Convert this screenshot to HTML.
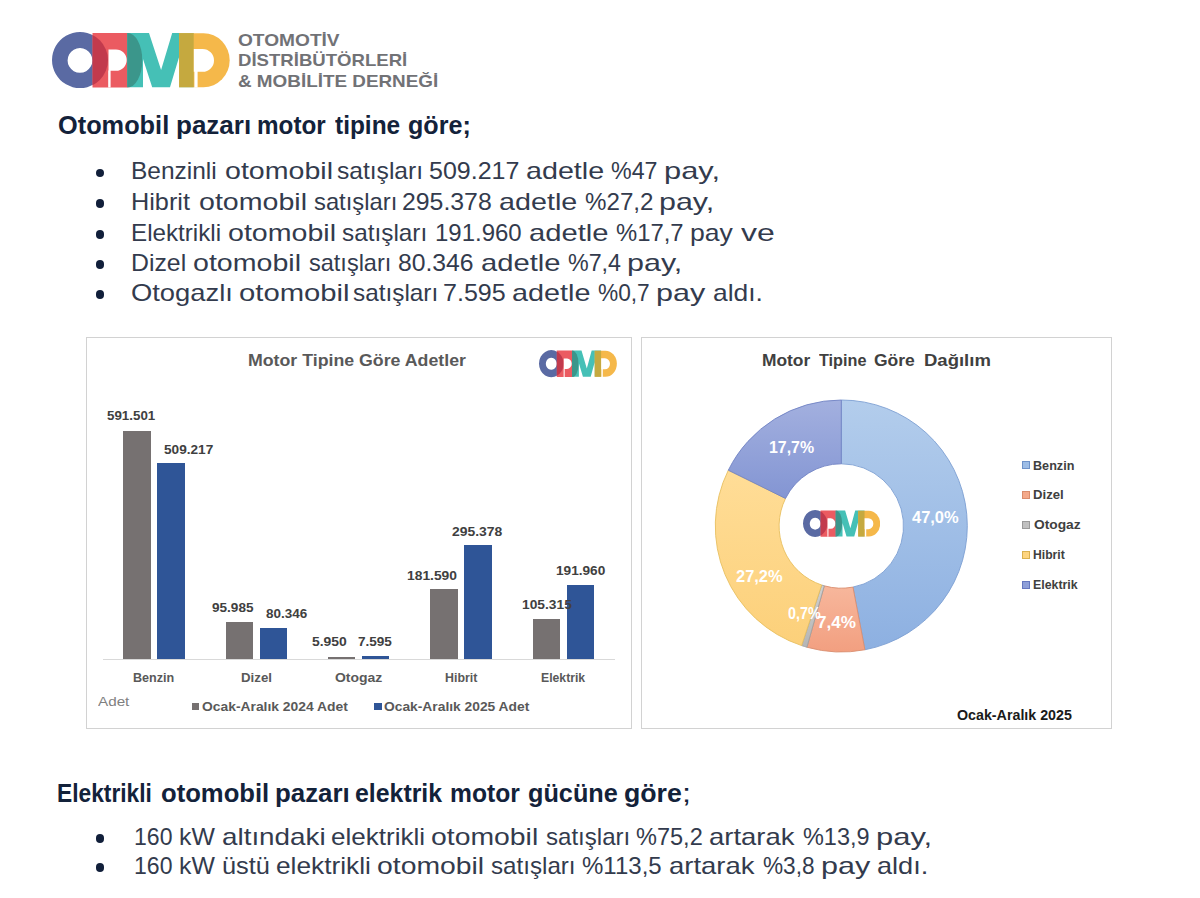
<!DOCTYPE html>
<html lang="tr"><head><meta charset="utf-8"><title>ODMD</title>
<style>
html,body{margin:0;padding:0;background:#fff;}
#page{position:relative;width:1200px;height:898px;overflow:hidden;background:#fff;}
.abs{position:absolute;box-sizing:border-box;}
.t{position:absolute;white-space:nowrap;line-height:1;font-family:"Liberation Sans", "DejaVu Sans", sans-serif;transform-origin:0 0;}
.dot{width:8.8px;height:8.8px;border-radius:50%;background:#111f3a;}
</style></head><body><div id="page">
<svg class="abs" style="left:51.5px;top:32px" width="178.0" height="56.5" viewBox="51.5 32 178 56.5" preserveAspectRatio="none">
<defs>
<clipPath id="cra"><path d="M92,33 H127 A14.8,27.25 0 0 1 127,87.5 H92 Z"/></clipPath>
<clipPath id="cya"><path d="M178.6,33.3 H203 A26.2,26.95 0 0 1 203,87.2 H178.6 Z"/></clipPath>
</defs>
<path fill="#5a6aa3" fill-rule="evenodd" d="M79.5,32.1 a28,28 0 1 0 0.01,0 Z M79.5,48 a12.4,12.4 0 1 1 -0.01,0 Z"/>
<path fill="#eb5b61" d="M92,33 H127 A14.8,27.25 0 0 1 127,87.5 H92 Z"/>
<circle cx="79.5" cy="60.1" r="28" fill="#c23a4d" clip-path="url(#cra)"/>
<path fill="#fff" d="M108,49.4 H115.5 A10.7,10.7 0 0 1 115.5,70.8 H108 Z M107.7,70.6 H110.1 V87.6 H107.7 Z"/>
<path id="ma" fill="#45c0b6" d="M126.8,33 H148.5 L160.6,70 L171.7,33 H193.2 V87.2 H178.6 V57 L169.5,87.2 H151.7 L142.5,59 V87.2 H126.8 Z"/>
<path fill="#3b968b" clip-path="url(#cra)" d="M126.8,33 H148.5 L160.6,70 L171.7,33 H193.2 V87.2 H178.6 V57 L169.5,87.2 H151.7 L142.5,59 V87.2 H126.8 Z"/>
<path fill="#f5b84a" d="M178.6,33.3 H203 A26.2,26.95 0 0 1 203,87.2 H178.6 Z"/>
<path fill="#c5a93f" clip-path="url(#cya)" d="M126.8,33 H148.5 L160.6,70 L171.7,33 H193.2 V87.2 H178.6 V57 L169.5,87.2 H151.7 L142.5,59 V87.2 H126.8 Z"/>
<path fill="#fff" d="M193.3,49 H202.1 A11.4,11.4 0 0 1 202.1,71.8 H193.3 Z M193.9,71.6 H197.1 V87.4 H193.9 Z"/>
</svg>
<div class="abs" style="left:86px;top:337px;width:546px;height:392px;border:1px solid #d2d2d2;"></div>
<div class="abs" style="left:641px;top:337px;width:471px;height:392px;border:1px solid #d2d2d2;"></div>
<div class="abs" style="left:103.00px;top:659.00px;width:512.00px;height:1.20px;background:#d9d9d9;"></div>
<div class="abs" style="left:123.40px;top:430.70px;width:27.20px;height:228.60px;background:#767171;"></div>
<div class="abs" style="left:157.40px;top:462.50px;width:27.20px;height:196.80px;background:#2f5597;"></div>
<div class="abs" style="left:225.75px;top:622.20px;width:27.20px;height:37.10px;background:#767171;"></div>
<div class="abs" style="left:259.75px;top:628.25px;width:27.20px;height:31.05px;background:#2f5597;"></div>
<div class="abs" style="left:328.10px;top:657.00px;width:27.20px;height:2.30px;background:#767171;"></div>
<div class="abs" style="left:362.10px;top:656.36px;width:27.20px;height:2.94px;background:#2f5597;"></div>
<div class="abs" style="left:430.45px;top:589.12px;width:27.20px;height:70.18px;background:#767171;"></div>
<div class="abs" style="left:464.45px;top:545.14px;width:27.20px;height:114.16px;background:#2f5597;"></div>
<div class="abs" style="left:532.80px;top:618.60px;width:27.20px;height:40.70px;background:#767171;"></div>
<div class="abs" style="left:566.80px;top:585.11px;width:27.20px;height:74.19px;background:#2f5597;"></div>
<div class="abs" style="left:191.70px;top:702.80px;width:7.30px;height:7.20px;background:#767171;"></div>
<div class="abs" style="left:374.30px;top:702.80px;width:7.30px;height:7.20px;background:#2f5597;"></div>
<div class="abs" style="left:1021.7px;top:461.3px;width:8.7px;height:8.2px;background:#9dbde6;border:0.8px solid #6f93c9"></div>
<div class="abs" style="left:1021.7px;top:490.7px;width:8.7px;height:8.2px;background:#f4a98a;border:0.8px solid #d98c6c"></div>
<div class="abs" style="left:1021.7px;top:520.7px;width:8.7px;height:8.2px;background:#c0c0c0;border:0.8px solid #9a9a9a"></div>
<div class="abs" style="left:1021.7px;top:550.7px;width:8.7px;height:8.2px;background:#fdd47f;border:0.8px solid #d9b050"></div>
<div class="abs" style="left:1021.7px;top:580.9px;width:8.7px;height:8.2px;background:#8e9fd8;border:0.8px solid #6678bf"></div>
<div class="abs dot" style="left:95.6px;top:168.7px"></div>
<div class="abs dot" style="left:95.6px;top:199.4px"></div>
<div class="abs dot" style="left:95.6px;top:230.1px"></div>
<div class="abs dot" style="left:95.6px;top:260.1px"></div>
<div class="abs dot" style="left:95.6px;top:289.8px"></div>
<div class="abs dot" style="left:95.6px;top:834.1px"></div>
<div class="abs dot" style="left:95.6px;top:863.3px"></div>
<svg class="abs" style="left:0;top:0" width="1200" height="898" viewBox="0 0 1200 898"><defs><linearGradient id="g0" x1="0" y1="0" x2="0" y2="1"><stop offset="0" stop-color="#b3cdec"/><stop offset="1" stop-color="#8db0e1"/></linearGradient><linearGradient id="g1" x1="0" y1="0" x2="0" y2="1"><stop offset="0" stop-color="#f7b79c"/><stop offset="1" stop-color="#f29f80"/></linearGradient><linearGradient id="g2" x1="0" y1="0" x2="0" y2="1"><stop offset="0" stop-color="#cfcfcf"/><stop offset="1" stop-color="#b5b5b5"/></linearGradient><linearGradient id="g3" x1="0" y1="0" x2="0" y2="1"><stop offset="0" stop-color="#ffdd97"/><stop offset="1" stop-color="#fcd07a"/></linearGradient><linearGradient id="g4" x1="0" y1="0" x2="0" y2="1"><stop offset="0" stop-color="#a3b0df"/><stop offset="1" stop-color="#8395d3"/></linearGradient></defs><path d="M841.30,400.00 A126.0,126.0 0 0 1 864.91,649.77 L852.96,587.10 A62.2,62.2 0 0 0 841.30,463.80 Z" fill="url(#g0)" stroke="#7d9fd2" stroke-width="0.9"/><path d="M864.91,649.77 A126.0,126.0 0 0 1 806.91,647.22 L824.32,585.84 A62.2,62.2 0 0 0 852.96,587.10 Z" fill="url(#g1)" stroke="#d98f70" stroke-width="0.9"/><path d="M806.91,647.22 A126.0,126.0 0 0 1 801.61,645.59 L821.71,585.03 A62.2,62.2 0 0 0 824.32,585.84 Z" fill="url(#g2)" stroke="#a0a0a0" stroke-width="0.9"/><path d="M801.61,645.59 A126.0,126.0 0 0 1 728.32,470.21 L785.53,498.46 A62.2,62.2 0 0 0 821.71,585.03 Z" fill="url(#g3)" stroke="#e8c060" stroke-width="0.9"/><path d="M728.32,470.21 A126.0,126.0 0 0 1 841.30,400.00 L841.30,463.80 A62.2,62.2 0 0 0 785.53,498.46 Z" fill="url(#g4)" stroke="#7283c4" stroke-width="0.9"/></svg>
<svg class="abs" style="left:538.7px;top:350.4px" width="78.0" height="27.5" viewBox="51.5 32 178 56.5" preserveAspectRatio="none">
<defs>
<clipPath id="crb"><path d="M92,33 H127 A14.8,27.25 0 0 1 127,87.5 H92 Z"/></clipPath>
<clipPath id="cyb"><path d="M178.6,33.3 H203 A26.2,26.95 0 0 1 203,87.2 H178.6 Z"/></clipPath>
</defs>
<path fill="#5a6aa3" fill-rule="evenodd" d="M79.5,32.1 a28,28 0 1 0 0.01,0 Z M79.5,48 a12.4,12.4 0 1 1 -0.01,0 Z"/>
<path fill="#eb5b61" d="M92,33 H127 A14.8,27.25 0 0 1 127,87.5 H92 Z"/>
<circle cx="79.5" cy="60.1" r="28" fill="#c23a4d" clip-path="url(#crb)"/>
<path fill="#fff" d="M108,49.4 H115.5 A10.7,10.7 0 0 1 115.5,70.8 H108 Z M107.7,70.6 H110.1 V87.6 H107.7 Z"/>
<path id="mb" fill="#45c0b6" d="M126.8,33 H148.5 L160.6,70 L171.7,33 H193.2 V87.2 H178.6 V57 L169.5,87.2 H151.7 L142.5,59 V87.2 H126.8 Z"/>
<path fill="#3b968b" clip-path="url(#crb)" d="M126.8,33 H148.5 L160.6,70 L171.7,33 H193.2 V87.2 H178.6 V57 L169.5,87.2 H151.7 L142.5,59 V87.2 H126.8 Z"/>
<path fill="#f5b84a" d="M178.6,33.3 H203 A26.2,26.95 0 0 1 203,87.2 H178.6 Z"/>
<path fill="#c5a93f" clip-path="url(#cyb)" d="M126.8,33 H148.5 L160.6,70 L171.7,33 H193.2 V87.2 H178.6 V57 L169.5,87.2 H151.7 L142.5,59 V87.2 H126.8 Z"/>
<path fill="#fff" d="M193.3,49 H202.1 A11.4,11.4 0 0 1 202.1,71.8 H193.3 Z M193.9,71.6 H197.1 V87.4 H193.9 Z"/>
</svg>
<svg class="abs" style="left:802.9px;top:510.0px" width="77.3" height="27.2" viewBox="51.5 32 178 56.5" preserveAspectRatio="none">
<defs>
<clipPath id="crc"><path d="M92,33 H127 A14.8,27.25 0 0 1 127,87.5 H92 Z"/></clipPath>
<clipPath id="cyc"><path d="M178.6,33.3 H203 A26.2,26.95 0 0 1 203,87.2 H178.6 Z"/></clipPath>
</defs>
<path fill="#5a6aa3" fill-rule="evenodd" d="M79.5,32.1 a28,28 0 1 0 0.01,0 Z M79.5,48 a12.4,12.4 0 1 1 -0.01,0 Z"/>
<path fill="#eb5b61" d="M92,33 H127 A14.8,27.25 0 0 1 127,87.5 H92 Z"/>
<circle cx="79.5" cy="60.1" r="28" fill="#c23a4d" clip-path="url(#crc)"/>
<path fill="#fff" d="M108,49.4 H115.5 A10.7,10.7 0 0 1 115.5,70.8 H108 Z M107.7,70.6 H110.1 V87.6 H107.7 Z"/>
<path id="mc" fill="#45c0b6" d="M126.8,33 H148.5 L160.6,70 L171.7,33 H193.2 V87.2 H178.6 V57 L169.5,87.2 H151.7 L142.5,59 V87.2 H126.8 Z"/>
<path fill="#3b968b" clip-path="url(#crc)" d="M126.8,33 H148.5 L160.6,70 L171.7,33 H193.2 V87.2 H178.6 V57 L169.5,87.2 H151.7 L142.5,59 V87.2 H126.8 Z"/>
<path fill="#f5b84a" d="M178.6,33.3 H203 A26.2,26.95 0 0 1 203,87.2 H178.6 Z"/>
<path fill="#c5a93f" clip-path="url(#cyc)" d="M126.8,33 H148.5 L160.6,70 L171.7,33 H193.2 V87.2 H178.6 V57 L169.5,87.2 H151.7 L142.5,59 V87.2 H126.8 Z"/>
<path fill="#fff" d="M193.3,49 H202.1 A11.4,11.4 0 0 1 202.1,71.8 H193.3 Z M193.9,71.6 H197.1 V87.4 H193.9 Z"/>
</svg>
<div class="t" style="left:238.43px;top:31.51px;font-size:17px;font-weight:700;color:#717276;transform:scaleX(1.1247);">OTOMOTİV</div>
<div class="t" style="left:238.00px;top:51.61px;font-size:17px;font-weight:700;color:#717276;transform:scaleX(1.0926);">DİSTRİBÜTÖRLERİ</div>
<div class="t" style="left:238.12px;top:72.61px;font-size:17px;font-weight:700;color:#717276;transform:scaleX(1.1099);">&amp; MOBİLİTE DERNEĞİ</div>
<div class="t" style="left:57.61px;top:113.21px;font-size:25.5px;font-weight:700;color:#13223a;transform:scaleX(0.9935);">Otomobil</div>
<div class="t" style="left:175.87px;top:113.21px;font-size:25.5px;font-weight:700;color:#13223a;transform:scaleX(1.0197);">pazarı</div>
<div class="t" style="left:257.18px;top:113.21px;font-size:25.5px;font-weight:700;color:#13223a;transform:scaleX(0.9514);">motor</div>
<div class="t" style="left:335.41px;top:113.21px;font-size:25.5px;font-weight:700;color:#13223a;transform:scaleX(0.9579);">tipine</div>
<div class="t" style="left:408.02px;top:113.21px;font-size:25.5px;font-weight:700;color:#13223a;transform:scaleX(0.9841);">göre;</div>
<div class="t" style="left:131.36px;top:159.48px;font-size:24px;font-weight:400;color:#333b4d;transform:scaleX(1.0197);">Benzinli</div>
<div class="t" style="left:224.81px;top:159.48px;font-size:24px;font-weight:400;color:#333b4d;transform:scaleX(1.1907);">otomobil</div>
<div class="t" style="left:337.29px;top:159.48px;font-size:24px;font-weight:400;color:#333b4d;transform:scaleX(1.0240);">satışları</div>
<div class="t" style="left:428.86px;top:159.48px;font-size:24px;font-weight:400;color:#333b4d;transform:scaleX(1.0424);">509.217</div>
<div class="t" style="left:525.70px;top:159.48px;font-size:24px;font-weight:400;color:#333b4d;transform:scaleX(1.1951);">adetle</div>
<div class="t" style="left:610.63px;top:159.48px;font-size:24px;font-weight:400;color:#333b4d;transform:scaleX(0.9677);">%47</div>
<div class="t" style="left:663.67px;top:159.48px;font-size:24px;font-weight:400;color:#333b4d;transform:scaleX(1.2845);">pay,</div>
<div class="t" style="left:131.30px;top:190.18px;font-size:24px;font-weight:400;color:#333b4d;transform:scaleX(1.0531);">Hibrit</div>
<div class="t" style="left:198.61px;top:190.18px;font-size:24px;font-weight:400;color:#333b4d;transform:scaleX(1.1907);">otomobil</div>
<div class="t" style="left:313.81px;top:190.18px;font-size:24px;font-weight:400;color:#333b4d;transform:scaleX(0.9907);">satışları</div>
<div class="t" style="left:402.26px;top:190.18px;font-size:24px;font-weight:400;color:#333b4d;transform:scaleX(1.0342);">295.378</div>
<div class="t" style="left:499.40px;top:190.18px;font-size:24px;font-weight:400;color:#333b4d;transform:scaleX(1.1967);">adetle</div>
<div class="t" style="left:585.20px;top:190.18px;font-size:24px;font-weight:400;color:#333b4d;transform:scaleX(1.0060);">%27,2</div>
<div class="t" style="left:659.40px;top:190.18px;font-size:24px;font-weight:400;color:#333b4d;transform:scaleX(1.2671);">pay,</div>
<div class="t" style="left:131.38px;top:220.88px;font-size:24px;font-weight:400;color:#333b4d;transform:scaleX(1.0080);">Elektrikli</div>
<div class="t" style="left:228.31px;top:220.88px;font-size:24px;font-weight:400;color:#333b4d;transform:scaleX(1.1907);">otomobil</div>
<div class="t" style="left:342.49px;top:220.88px;font-size:24px;font-weight:400;color:#333b4d;transform:scaleX(1.0141);">satışları</div>
<div class="t" style="left:435.00px;top:220.88px;font-size:24px;font-weight:400;color:#333b4d;transform:scaleX(0.9987);">191.960</div>
<div class="t" style="left:529.28px;top:220.88px;font-size:24px;font-weight:400;color:#333b4d;transform:scaleX(1.2172);">adetle</div>
<div class="t" style="left:615.61px;top:220.88px;font-size:24px;font-weight:400;color:#333b4d;transform:scaleX(0.9924);">%17,7</div>
<div class="t" style="left:689.94px;top:220.88px;font-size:24px;font-weight:400;color:#333b4d;transform:scaleX(1.1077);">pay</div>
<div class="t" style="left:740.60px;top:220.88px;font-size:24px;font-weight:400;color:#333b4d;transform:scaleX(1.3333);">ve</div>
<div class="t" style="left:131.34px;top:250.88px;font-size:24px;font-weight:400;color:#333b4d;transform:scaleX(1.0338);">Dizel</div>
<div class="t" style="left:193.31px;top:250.88px;font-size:24px;font-weight:400;color:#333b4d;transform:scaleX(1.1907);">otomobil</div>
<div class="t" style="left:308.51px;top:250.88px;font-size:24px;font-weight:400;color:#333b4d;transform:scaleX(0.9796);">satışları</div>
<div class="t" style="left:398.07px;top:250.88px;font-size:24px;font-weight:400;color:#333b4d;transform:scaleX(1.0300);">80.346</div>
<div class="t" style="left:480.78px;top:250.88px;font-size:24px;font-weight:400;color:#333b4d;transform:scaleX(1.2172);">adetle</div>
<div class="t" style="left:568.02px;top:250.88px;font-size:24px;font-weight:400;color:#333b4d;transform:scaleX(0.9689);">%7,4</div>
<div class="t" style="left:627.20px;top:250.88px;font-size:24px;font-weight:400;color:#333b4d;transform:scaleX(1.2696);">pay,</div>
<div class="t" style="left:131.15px;top:280.58px;font-size:24px;font-weight:400;color:#333b4d;transform:scaleX(1.1394);">Otogazlı</div>
<div class="t" style="left:238.78px;top:280.58px;font-size:24px;font-weight:400;color:#333b4d;transform:scaleX(1.2191);">otomobil</div>
<div class="t" style="left:352.99px;top:280.58px;font-size:24px;font-weight:400;color:#333b4d;transform:scaleX(1.0141);">satışları</div>
<div class="t" style="left:443.35px;top:280.58px;font-size:24px;font-weight:400;color:#333b4d;transform:scaleX(1.0430);">7.595</div>
<div class="t" style="left:511.70px;top:280.58px;font-size:24px;font-weight:400;color:#333b4d;transform:scaleX(1.1998);">adetle</div>
<div class="t" style="left:597.74px;top:280.58px;font-size:24px;font-weight:400;color:#333b4d;transform:scaleX(0.9459);">%0,7</div>
<div class="t" style="left:656.09px;top:280.58px;font-size:24px;font-weight:400;color:#333b4d;transform:scaleX(1.2717);">pay</div>
<div class="t" style="left:712.90px;top:280.58px;font-size:24px;font-weight:400;color:#333b4d;transform:scaleX(1.0996);">aldı.</div>
<div class="t" style="left:57.48px;top:780.71px;font-size:25.5px;font-weight:700;color:#13223a;transform:scaleX(0.8928);">Elektrikli</div>
<div class="t" style="left:161.40px;top:780.71px;font-size:25.5px;font-weight:700;color:#13223a;transform:scaleX(1.0052);">otomobil</div>
<div class="t" style="left:274.78px;top:780.71px;font-size:25.5px;font-weight:700;color:#13223a;transform:scaleX(1.0140);">pazarı</div>
<div class="t" style="left:355.12px;top:780.71px;font-size:25.5px;font-weight:700;color:#13223a;transform:scaleX(0.9748);">elektrik</div>
<div class="t" style="left:449.85px;top:780.71px;font-size:25.5px;font-weight:700;color:#13223a;transform:scaleX(0.9670);">motor</div>
<div class="t" style="left:527.61px;top:780.71px;font-size:25.5px;font-weight:700;color:#13223a;transform:scaleX(0.9900);">gücüne</div>
<div class="t" style="left:623.75px;top:780.71px;font-size:25.5px;font-weight:700;color:#13223a;transform:scaleX(1.0472);">göre</div>
<div class="t" style="left:682.21px;top:780.71px;font-size:25.5px;font-weight:400;color:#13223a;transform:scaleX(1.2692);">;</div>
<div class="t" style="left:134.37px;top:824.88px;font-size:24px;font-weight:400;color:#333b4d;transform:scaleX(0.9600);">160</div>
<div class="t" style="left:179.15px;top:824.88px;font-size:24px;font-weight:400;color:#333b4d;transform:scaleX(1.0333);">kW</div>
<div class="t" style="left:222.44px;top:824.88px;font-size:24px;font-weight:400;color:#333b4d;transform:scaleX(1.1594);">altındaki</div>
<div class="t" style="left:331.02px;top:824.88px;font-size:24px;font-weight:400;color:#333b4d;transform:scaleX(1.0849);">elektrikli</div>
<div class="t" style="left:430.92px;top:824.88px;font-size:24px;font-weight:400;color:#333b4d;transform:scaleX(1.1816);">otomobil</div>
<div class="t" style="left:545.50px;top:824.88px;font-size:24px;font-weight:400;color:#333b4d;transform:scaleX(1.0030);">satışları</div>
<div class="t" style="left:636.32px;top:824.88px;font-size:24px;font-weight:400;color:#333b4d;transform:scaleX(0.9803);">%75,2</div>
<div class="t" style="left:709.45px;top:824.88px;font-size:24px;font-weight:400;color:#333b4d;transform:scaleX(1.1451);">artarak</div>
<div class="t" style="left:803.12px;top:824.88px;font-size:24px;font-weight:400;color:#333b4d;transform:scaleX(0.9773);">%13,9</div>
<div class="t" style="left:876.37px;top:824.88px;font-size:24px;font-weight:400;color:#333b4d;transform:scaleX(1.2895);">pay,</div>
<div class="t" style="left:134.37px;top:854.08px;font-size:24px;font-weight:400;color:#333b4d;transform:scaleX(0.9600);">160</div>
<div class="t" style="left:179.15px;top:854.08px;font-size:24px;font-weight:400;color:#333b4d;transform:scaleX(1.0333);">kW</div>
<div class="t" style="left:221.91px;top:854.08px;font-size:24px;font-weight:400;color:#333b4d;transform:scaleX(1.0563);">üstü</div>
<div class="t" style="left:275.91px;top:854.08px;font-size:24px;font-weight:400;color:#333b4d;transform:scaleX(1.0945);">elektrikli</div>
<div class="t" style="left:376.72px;top:854.08px;font-size:24px;font-weight:400;color:#333b4d;transform:scaleX(1.1805);">otomobil</div>
<div class="t" style="left:491.00px;top:854.08px;font-size:24px;font-weight:400;color:#333b4d;transform:scaleX(1.0067);">satışları</div>
<div class="t" style="left:582.10px;top:854.08px;font-size:24px;font-weight:400;color:#333b4d;transform:scaleX(1.0004);">%113,5</div>
<div class="t" style="left:669.25px;top:854.08px;font-size:24px;font-weight:400;color:#333b4d;transform:scaleX(1.1451);">artarak</div>
<div class="t" style="left:762.85px;top:854.08px;font-size:24px;font-weight:400;color:#333b4d;transform:scaleX(0.9423);">%3,8</div>
<div class="t" style="left:821.19px;top:854.08px;font-size:24px;font-weight:400;color:#333b4d;transform:scaleX(1.2717);">pay</div>
<div class="t" style="left:877.17px;top:854.08px;font-size:24px;font-weight:400;color:#333b4d;transform:scaleX(1.1305);">aldı.</div>
<div class="t" style="left:248.44px;top:352.78px;font-size:16.8px;font-weight:700;color:#595959;transform:scaleX(1.0575);">Motor Tipine Göre Adetler</div>
<div class="t" style="left:107.29px;top:410.16px;font-size:12.8px;font-weight:700;color:#404040;transform:scaleX(1.0427);">591.501</div>
<div class="t" style="left:164.08px;top:443.66px;font-size:12.8px;font-weight:700;color:#404040;transform:scaleX(1.0649);">509.217</div>
<div class="t" style="left:212.08px;top:602.46px;font-size:12.8px;font-weight:700;color:#404040;transform:scaleX(1.0590);">95.985</div>
<div class="t" style="left:265.58px;top:607.96px;font-size:12.8px;font-weight:700;color:#404040;transform:scaleX(1.0514);">80.346</div>
<div class="t" style="left:312.47px;top:636.46px;font-size:12.8px;font-weight:700;color:#404040;transform:scaleX(1.0861);">5.950</div>
<div class="t" style="left:358.07px;top:636.46px;font-size:12.8px;font-weight:700;color:#404040;transform:scaleX(1.0573);">7.595</div>
<div class="t" style="left:407.34px;top:569.86px;font-size:12.8px;font-weight:700;color:#404040;transform:scaleX(1.0812);">181.590</div>
<div class="t" style="left:452.27px;top:525.56px;font-size:12.8px;font-weight:700;color:#404040;transform:scaleX(1.0867);">295.378</div>
<div class="t" style="left:521.84px;top:599.26px;font-size:12.8px;font-weight:700;color:#404040;transform:scaleX(1.0764);">105.315</div>
<div class="t" style="left:555.85px;top:565.46px;font-size:12.8px;font-weight:700;color:#404040;transform:scaleX(1.0656);">191.960</div>
<div class="t" style="left:133.14px;top:671.03px;font-size:13.2px;font-weight:700;color:#595959;transform:scaleX(0.9543);">Benzin</div>
<div class="t" style="left:241.00px;top:671.03px;font-size:13.2px;font-weight:700;color:#595959;transform:scaleX(1.0054);">Dizel</div>
<div class="t" style="left:335.47px;top:671.03px;font-size:13.2px;font-weight:700;color:#595959;transform:scaleX(1.0586);">Otogaz</div>
<div class="t" style="left:445.05px;top:671.03px;font-size:13.2px;font-weight:700;color:#595959;transform:scaleX(0.9384);">Hibrit</div>
<div class="t" style="left:541.16px;top:671.03px;font-size:13.2px;font-weight:700;color:#595959;transform:scaleX(0.9264);">Elektrik</div>
<div class="t" style="left:98.10px;top:694.97px;font-size:13.5px;font-weight:400;color:#7f7f7f;transform:scaleX(1.1291);">Adet</div>
<div class="t" style="left:201.97px;top:700.03px;font-size:13.2px;font-weight:700;color:#595959;transform:scaleX(1.0504);">Ocak-Aralık 2024 Adet</div>
<div class="t" style="left:384.48px;top:700.03px;font-size:13.2px;font-weight:700;color:#595959;transform:scaleX(1.0468);">Ocak-Aralık 2025 Adet</div>
<div class="t" style="left:762.41px;top:353.06px;font-size:16.0px;font-weight:700;color:#404040;transform:scaleX(1.0856);">Motor</div>
<div class="t" style="left:818.70px;top:353.06px;font-size:16.0px;font-weight:700;color:#404040;transform:scaleX(1.0125);">Tipine</div>
<div class="t" style="left:874.34px;top:353.06px;font-size:16.0px;font-weight:700;color:#404040;transform:scaleX(1.0926);">Göre</div>
<div class="t" style="left:923.84px;top:353.06px;font-size:16.0px;font-weight:700;color:#404040;transform:scaleX(1.1564);">Dağılım</div>
<div class="t" style="left:957.19px;top:707.95px;font-size:14.0px;font-weight:700;color:#1a1a1a;transform:scaleX(1.0181);">Ocak-Aralık 2025</div>
<div class="t" style="left:1033.39px;top:459.82px;font-size:12.5px;font-weight:700;color:#404040;transform:scaleX(1.0092);">Benzin</div>
<div class="t" style="left:1033.36px;top:489.22px;font-size:12.5px;font-weight:700;color:#404040;transform:scaleX(1.0508);">Dizel</div>
<div class="t" style="left:1033.65px;top:519.22px;font-size:12.5px;font-weight:700;color:#404040;transform:scaleX(1.1012);">Otogaz</div>
<div class="t" style="left:1033.42px;top:549.22px;font-size:12.5px;font-weight:700;color:#404040;transform:scaleX(0.9725);">Hibrit</div>
<div class="t" style="left:1033.41px;top:579.42px;font-size:12.5px;font-weight:700;color:#404040;transform:scaleX(0.9884);">Elektrik</div>
<div class="t" style="left:912.29px;top:510.36px;font-size:16.0px;font-weight:700;color:#ffffff;transform:scaleX(1.0281);">47,0%</div>
<div class="t" style="left:769.01px;top:439.96px;font-size:16.0px;font-weight:700;color:#ffffff;transform:scaleX(0.9945);">17,7%</div>
<div class="t" style="left:736.29px;top:569.46px;font-size:16.0px;font-weight:700;color:#ffffff;transform:scaleX(1.0283);">27,2%</div>
<div class="t" style="left:787.66px;top:606.46px;font-size:16.0px;font-weight:700;color:#ffffff;transform:scaleX(0.8947);">0,7%</div>
<div class="t" style="left:817.26px;top:614.76px;font-size:16.0px;font-weight:700;color:#ffffff;transform:scaleX(1.0692);">7,4%</div>
</div></body></html>
